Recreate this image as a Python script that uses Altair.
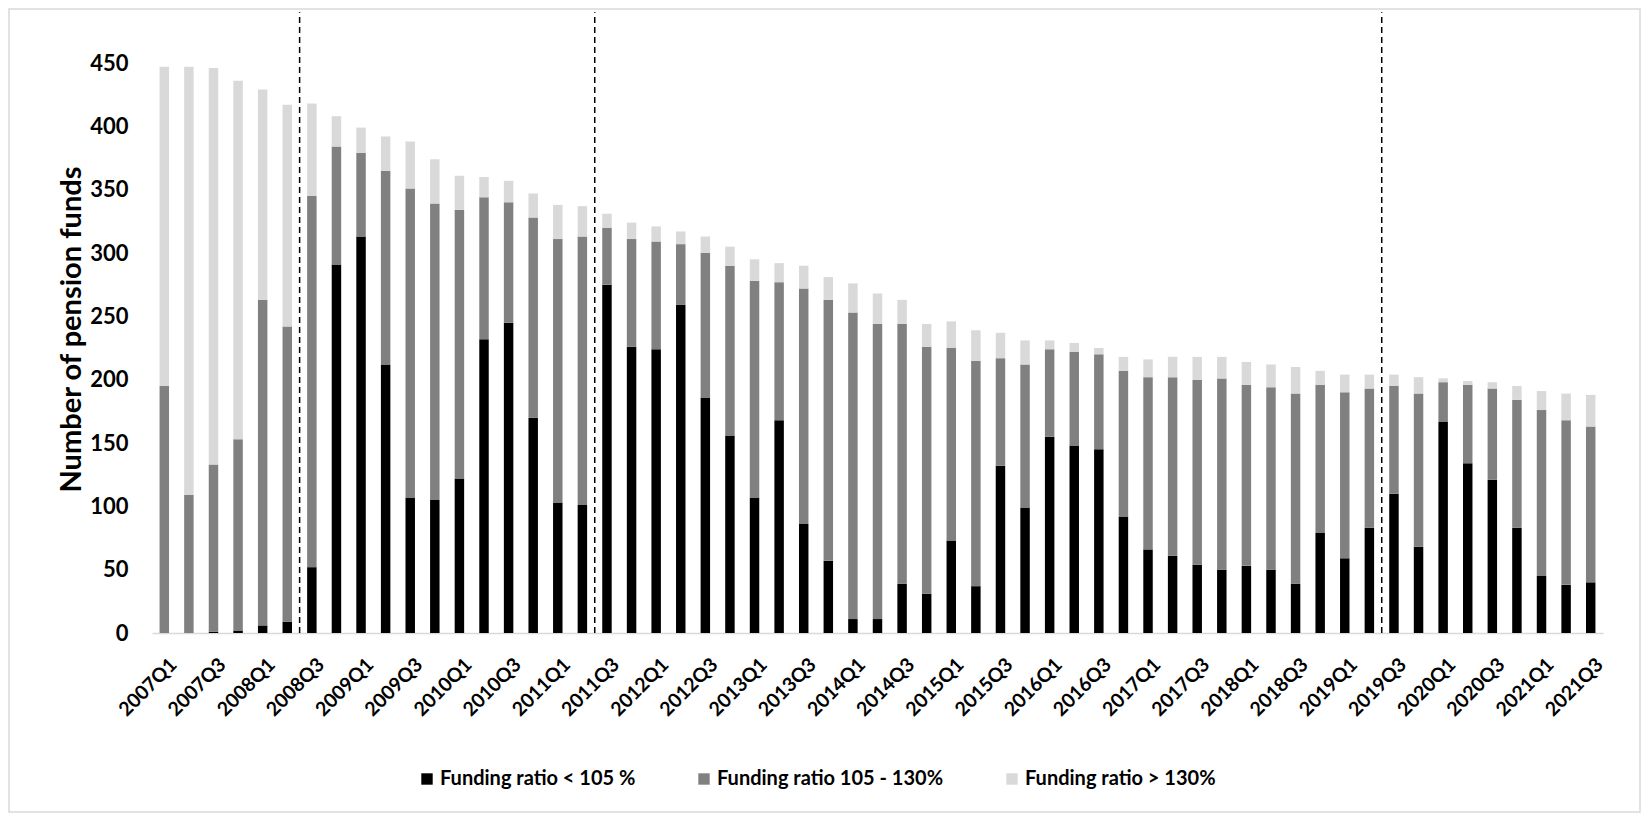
import altair as alt
import pandas as pd

quarters = [
    "2007Q1", "2007Q2", "2007Q3", "2007Q4", "2008Q1", "2008Q2", "2008Q3", "2008Q4",
    "2009Q1", "2009Q2", "2009Q3", "2009Q4", "2010Q1", "2010Q2", "2010Q3", "2010Q4",
    "2011Q1", "2011Q2", "2011Q3", "2011Q4", "2012Q1", "2012Q2", "2012Q3", "2012Q4",
    "2013Q1", "2013Q2", "2013Q3", "2013Q4", "2014Q1", "2014Q2", "2014Q3", "2014Q4",
    "2015Q1", "2015Q2", "2015Q3", "2015Q4", "2016Q1", "2016Q2", "2016Q3", "2016Q4",
    "2017Q1", "2017Q2", "2017Q3", "2017Q4", "2018Q1", "2018Q2", "2018Q3", "2018Q4",
    "2019Q1", "2019Q2", "2019Q3", "2019Q4", "2020Q1", "2020Q2", "2020Q3", "2020Q4",
    "2021Q1", "2021Q2", "2021Q3",
]

label_quarters = [
    "2007Q1", "2007Q3", "2008Q1", "2008Q3", "2009Q1", "2009Q3", "2010Q1", "2010Q3",
    "2011Q1", "2011Q3", "2012Q1", "2012Q3", "2013Q1", "2013Q3", "2014Q1", "2014Q3",
    "2015Q1", "2015Q3", "2016Q1", "2016Q3", "2017Q1", "2017Q3", "2018Q1", "2018Q3",
    "2019Q1", "2019Q3", "2020Q1", "2020Q3", "2021Q1", "2021Q3",
]

# Funding ratio < 105 %
below_105 = [0, 0, 1, 2, 6, 9, 52, 291, 313, 212, 107, 105, 122, 232, 245, 170,
             103, 101, 275, 226, 224, 259, 186, 156, 107, 168, 86, 57, 11, 11, 39, 31,
             73, 37, 132, 99, 155, 148, 145, 92, 66, 61, 54, 50, 53, 50, 39, 79,
             59, 83, 110, 68, 167, 134, 121, 83, 45, 38, 40]
# Funding ratio 105 - 130%
between = [195, 109, 132, 151, 257, 233, 293, 93, 66, 153, 244, 234, 212, 112, 95, 158,
           208, 212, 45, 85, 85, 48, 114, 134, 171, 109, 186, 206, 242, 233, 205, 195,
           152, 178, 85, 113, 69, 74, 75, 115, 136, 141, 146, 151, 143, 144, 150, 117,
           131, 110, 85, 121, 31, 62, 72, 101, 131, 130, 123]
# Funding ratio > 130%
above_130 = [252, 338, 313, 283, 166, 175, 73, 24, 20, 27, 37, 35, 27, 16, 17, 19,
             27, 24, 11, 13, 12, 10, 13, 15, 17, 15, 18, 18, 23, 24, 19, 18,
             21, 24, 20, 19, 7, 7, 5, 11, 14, 16, 18, 17, 18, 18, 21, 11,
             14, 11, 9, 13, 3, 3, 5, 11, 15, 21, 25]

series_names = ["Funding ratio < 105 %", "Funding ratio 105 - 130%", "Funding ratio > 130%"]
series_colors = ["#000000", "#808080", "#d9d9d9"]

break_quarters = ["2008Q3", "2011Q3", "2019Q3"]

rows = []
for k, vals in enumerate([below_105, between, above_130]):
    for q, v in zip(quarters, vals):
        rows.append({"quarter": q, "series": series_names[k], "value": v, "ord": k})
df = pd.DataFrame(rows)

rules_df = pd.DataFrame({"quarter": break_quarters, "y0": [0] * 3, "y1": [490] * 3})

W, H = 1451, 570
FONT = "Lato"

x_enc = alt.X(
    "quarter:N",
    sort=quarters,
    scale=alt.Scale(paddingInner=0.615, paddingOuter=0.3075),
    axis=alt.Axis(
        values=label_quarters,
        title=None,
        labelAngle=-45,
        labelAlign="right",
        labelBaseline="top",
        labelPadding=22,
        labelOffset=3,
        labelFont=FONT,
        labelFontSize=19.5,
        labelFontWeight="bold",
        labelColor="#000000",
        ticks=False,
        grid=False,
        domainColor="#d9d9d9",
        domainWidth=1.5,
    ),
)

bars = alt.Chart(df).mark_bar().encode(
    x=x_enc,
    y=alt.Y(
        "value:Q",
        stack="zero",
        scale=alt.Scale(domain=[0, 450], nice=False),
        axis=alt.Axis(
            values=list(range(0, 451, 50)),
            title="Number of pension funds",
            titleFont=FONT,
            titleFontSize=29,
            titleFontWeight="bold",
            titleColor="#000000",
            titlePadding=3,
            titleY=266,
            labelFont=FONT,
            labelFontSize=22,
            labelFontWeight="bold",
            labelColor="#000000",
            labelPadding=24,
            ticks=False,
            domain=False,
            grid=False,
        ),
    ),
    color=alt.Color(
        "series:N",
        sort=series_names,
        scale=alt.Scale(domain=series_names, range=series_colors),
        legend=alt.Legend(
            title=None,
            orient="none",
            direction="horizontal",
            legendX=265,
            legendY=706,
            symbolType="square",
            symbolSize=130,
            symbolStrokeWidth=0,
            symbolOpacity=1,
            labelFont=FONT,
            labelFontSize=20,
            labelFontWeight="bold",
            labelColor="#000000",
            labelOffset=3,
            labelLimit=0,
            columnPadding=58,
        ),
    ),
    order=alt.Order("ord:Q", sort="ascending"),
)

rules = alt.Chart(rules_df).mark_rule(
    color="#000000", strokeWidth=1.5, strokeDash=[6, 4], xOffset=-7.5
).encode(
    x=alt.X("quarter:N", sort=quarters, bandPosition=0),
    y=alt.Y("y0:Q"),
    y2="y1:Q",
)

frame = alt.Chart(pd.DataFrame({"a": [0]})).mark_rect(
    fillOpacity=0, stroke="#d9d9d9", strokeWidth=1.5
).encode(
    x=alt.value(-143),
    x2=alt.value(1488),
    y=alt.value(-54),
    y2=alt.value(749),
)

chart = alt.layer(frame, bars, rules).properties(
    width=W,
    height=H,
    autosize=alt.AutoSizeParams(type="none"),
    padding={"left": 144, "top": 55, "right": 39, "bottom": 181},
    background="#ffffff",
).configure_view(strokeWidth=0)

chart.save("out.html", embed_options={"renderer": "svg", "actions": False})
